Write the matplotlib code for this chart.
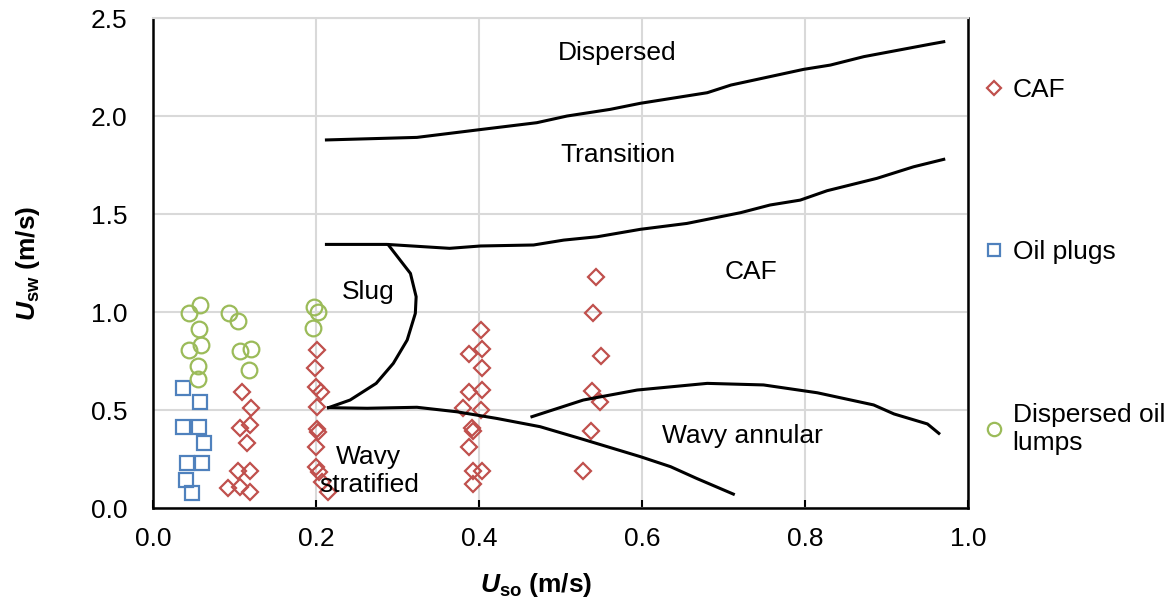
import matplotlib
matplotlib.use("Agg")
from matplotlib import pyplot as plt

plt.rcParams['font.family'] = ['Liberation Sans', 'DejaVu Sans']
plt.rcParams['mathtext.fontset'] = 'custom'
plt.rcParams['mathtext.it'] = 'Liberation Sans:italic:bold'
plt.rcParams['mathtext.rm'] = 'Liberation Sans:bold'
plt.rcParams['mathtext.bf'] = 'Liberation Sans:bold'

# measured points
plug_x = [0.037, 0.058, 0.037, 0.057, 0.063, 0.042, 0.060, 0.041, 0.048]
plug_y = [0.611, 0.542, 0.415, 0.415, 0.333, 0.231, 0.231, 0.143, 0.078]

lump_x = [0.045, 0.058, 0.057, 0.044, 0.059, 0.056, 0.055,
          0.094, 0.105, 0.107, 0.121, 0.118,
          0.198, 0.203, 0.196]
lump_y = [0.993, 1.036, 0.912, 0.806, 0.830, 0.724, 0.657,
          0.996, 0.956, 0.803, 0.810, 0.704,
          1.027, 1.002, 0.917]

caf_x = [0.110, 0.121, 0.107, 0.119, 0.116, 0.105, 0.119, 0.092, 0.107, 0.119,
         0.201, 0.199, 0.200, 0.206, 0.201, 0.201, 0.203, 0.200, 0.200, 0.204, 0.207, 0.215,
         0.402, 0.388, 0.404, 0.404, 0.388, 0.404, 0.380, 0.402, 0.391, 0.393, 0.388, 0.393, 0.404, 0.393,
         0.544, 0.540, 0.550, 0.539, 0.548, 0.537, 0.528]
caf_y = [0.593, 0.509, 0.407, 0.423, 0.330, 0.190, 0.190, 0.101, 0.109, 0.083,
         0.806, 0.713, 0.619, 0.593, 0.517, 0.401, 0.389, 0.313, 0.211, 0.185, 0.134, 0.083,
         0.908, 0.786, 0.810, 0.713, 0.593, 0.602, 0.509, 0.500, 0.407, 0.393, 0.310, 0.190, 0.190, 0.122,
         1.177, 0.993, 0.776, 0.598, 0.542, 0.393, 0.190]

# transition boundaries
disp_x = [0.213, 0.324, 0.398, 0.471, 0.508, 0.561, 0.598, 0.680, 0.709, 0.798, 0.831, 0.872, 0.954, 0.970]
disp_y = [1.878, 1.891, 1.929, 1.966, 2.000, 2.034, 2.065, 2.119, 2.158, 2.238, 2.260, 2.303, 2.367, 2.379]

caf_top_x = [0.213, 0.287, 0.364, 0.402, 0.467, 0.504, 0.545, 0.598, 0.655, 0.721, 0.757, 0.794, 0.827, 0.888, 0.933, 0.970]
caf_top_y = [1.345, 1.345, 1.325, 1.337, 1.342, 1.367, 1.384, 1.422, 1.452, 1.507, 1.546, 1.571, 1.619, 1.682, 1.741, 1.779]

slug_x = [0.289, 0.316, 0.323, 0.322, 0.312, 0.295, 0.274, 0.242, 0.2155]
slug_y = [1.342, 1.197, 1.078, 0.993, 0.857, 0.738, 0.636, 0.551, 0.512]

strat_x = [0.2155, 0.263, 0.324, 0.373, 0.422, 0.475, 0.528, 0.598, 0.635, 0.667, 0.712]
strat_y = [0.512, 0.509, 0.514, 0.491, 0.457, 0.415, 0.350, 0.262, 0.211, 0.151, 0.071]

ann_x = [0.465, 0.528, 0.594, 0.680, 0.749, 0.815, 0.884, 0.909, 0.950, 0.964]
ann_y = [0.466, 0.551, 0.602, 0.636, 0.628, 0.588, 0.526, 0.480, 0.429, 0.381]

regions = ["Dispersed", "Transition", "CAF", "Slug", "Wavy\nstratified", "Wavy annular"]
region_x = [0.569, 0.570, 0.733, 0.264, 0.265, 0.723]
region_y = [2.32, 1.80, 1.204, 1.10, 0.19, 0.367]

fig = plt.figure(figsize=(11.75, 6.01), dpi=100)
ax = fig.add_axes([0.130, 0.1547, 0.694, 0.8153])

fs = 19
ax.plot(caf_x, caf_y, ls='none', marker='D', ms=8.3, mfc='none', mec='#C0504D', mew=1.6, label='CAF', clip_on=False, zorder=3)
ax.plot(plug_x, plug_y, ls='none', marker='s', ms=9.8, mfc='none', mec='#4F81BD', mew=1.6, label='Oil plugs', clip_on=False, zorder=3)
ax.plot(lump_x, lump_y, ls='none', marker='o', ms=11.3, mfc='none', mec='#9BBB59', mew=1.6, label='Dispersed oil\nlumps', clip_on=False, zorder=3)

for xs, ys in [(disp_x, disp_y), (caf_top_x, caf_top_y), (slug_x, slug_y), (strat_x, strat_y), (ann_x, ann_y)]:
    ax.plot(xs, ys, color='black', lw=2.2, zorder=4)

for txt, tx, ty in zip(regions, region_x, region_y):
    ax.text(tx, ty, txt, fontsize=fs, ha='center', va='center', zorder=5)

ax.set_xlim(0, 1.0)
ax.set_ylim(0, 2.5)
ax.set_xticks([0, 0.2, 0.4, 0.6, 0.8, 1.0])
ax.set_yticks([0, 0.5, 1.0, 1.5, 2.0, 2.5])
ax.xaxis.set_major_formatter(matplotlib.ticker.FormatStrFormatter('%.1f'))
ax.yaxis.set_major_formatter(matplotlib.ticker.FormatStrFormatter('%.1f'))
ax.tick_params(axis='x', direction='in', length=6, width=1.5, color='black', labelsize=fs, pad=14)
ax.tick_params(axis='y', length=0, labelsize=fs, pad=18)
ax.grid(True, color='#D9D9D9', lw=1.5)
ax.set_axisbelow(True)
for side in ['left', 'bottom', 'right']:
    ax.spines[side].set_color('black')
    ax.spines[side].set_linewidth(1.8)
ax.spines['top'].set_color('#D9D9D9')
ax.spines['top'].set_linewidth(1.5)

ax.set_xlabel(r'$\mathit{U}_{\mathrm{so}}$ (m/s)', fontsize=fs, fontweight='bold')
ax.xaxis.set_label_coords(0.470, -0.128)
ax.set_ylabel(r'$\mathit{U}_{\mathrm{sw}}$ (m/s)', fontsize=fs, fontweight='bold')
ax.yaxis.set_label_coords(-0.136, 0.5)

ax.legend(loc='upper left', bbox_to_anchor=(1.019, 0.878), frameon=False, fontsize=fs,
          labelspacing=5.25, handlelength=0.8, handletextpad=0.3, borderpad=0, borderaxespad=0,
          markerscale=0.85)

plt.savefig('out.png', dpi=100)
